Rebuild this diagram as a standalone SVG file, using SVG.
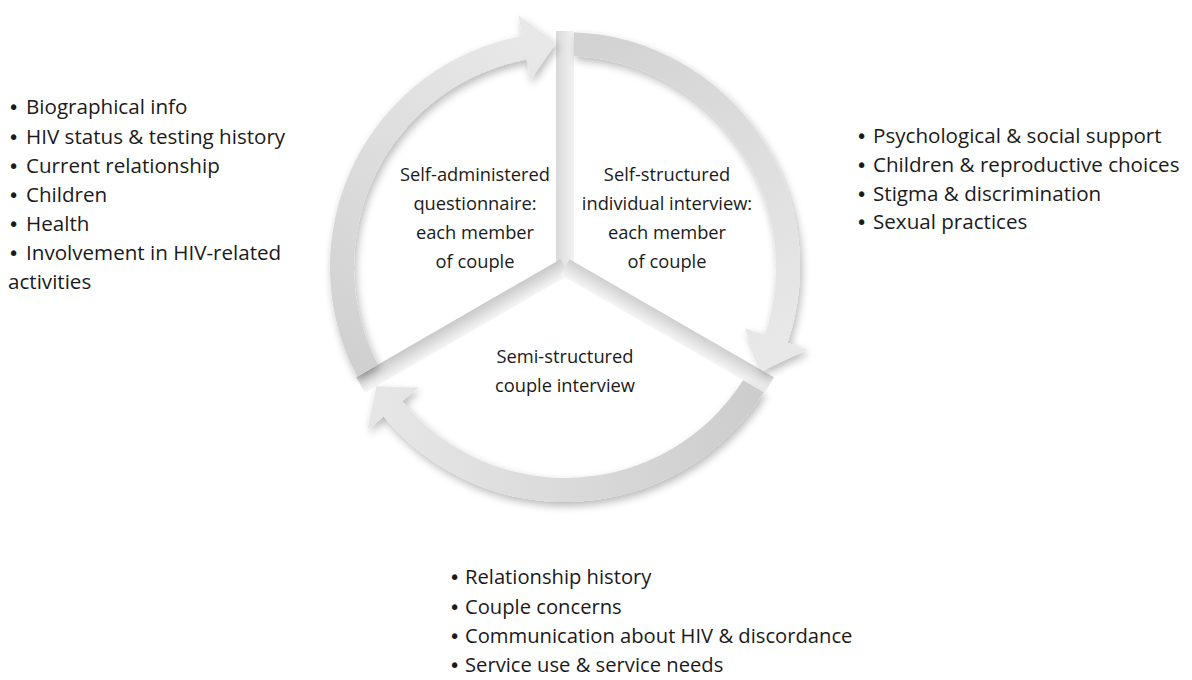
<svg xmlns="http://www.w3.org/2000/svg" width="1192" height="680" viewBox="0 0 1192 680">
  <defs>
    <style>
      .list { font-family: "Open Sans", "Noto Sans", "DejaVu Sans", sans-serif; font-size: 20.6px; fill: #1a1a1a; }
      .listb { font-family: "Open Sans", "Noto Sans", "DejaVu Sans", sans-serif; font-size: 20.2px; fill: #1a1a1a; }
      .bul { font-family: "DejaVu Sans", "Liberation Sans", sans-serif; font-size: 19px; }
      .lbl { font-family: "Open Sans", "Noto Sans", "DejaVu Sans", sans-serif; font-size: 18.3px; fill: #1a1a1a; text-anchor: middle; }
      .seg { filter: url(#shadow); }
    </style>
    <filter id="shadow" x="-20%" y="-20%" width="140%" height="140%">
      <feGaussianBlur in="SourceAlpha" stdDeviation="4"/>
      <feOffset dx="2" dy="4" result="b"/>
      <feComponentTransfer><feFuncA type="linear" slope="0.28"/></feComponentTransfer>
      <feMerge><feMergeNode/><feMergeNode in="SourceGraphic"/></feMerge>
    </filter>
    <linearGradient id="g1" gradientUnits="userSpaceOnUse" x1="367" y1="370" x2="540" y2="45">
      <stop offset="0" stop-color="#d0d0d0"/>
      <stop offset="1" stop-color="#e8e8e8"/>
    </linearGradient>
    <linearGradient id="g2" gradientUnits="userSpaceOnUse" x1="574" y1="44" x2="775" y2="350">
      <stop offset="0" stop-color="#d2d2d2"/>
      <stop offset="1" stop-color="#e8e8e8"/>
    </linearGradient>
    <linearGradient id="g3" gradientUnits="userSpaceOnUse" x1="753" y1="386" x2="385" y2="405">
      <stop offset="0" stop-color="#cdcdcd"/>
      <stop offset="1" stop-color="#e6e6e6"/>
    </linearGradient>
    <linearGradient id="spokeV" x1="0" y1="0" x2="0" y2="1">
      <stop offset="0" stop-color="#d9d9d9"/>
      <stop offset="0.5" stop-color="#e6e6e6"/>
      <stop offset="1" stop-color="#f2f2f2"/>
    </linearGradient>
    <linearGradient id="spokeL" x1="0" y1="0" x2="0" y2="1">
      <stop offset="0" stop-color="#f6f6f6"/>
      <stop offset="1" stop-color="#c9c9c9"/>
    </linearGradient>
    <linearGradient id="spokeR" x1="0" y1="0" x2="0" y2="1">
      <stop offset="0" stop-color="#cfcfcf"/>
      <stop offset="1" stop-color="#f6f6f6"/>
    </linearGradient>
  </defs>

  <rect width="1192" height="680" fill="#ffffff"/>

  <g id="connectors">
    <rect x="0" y="-9" width="236" height="18" fill="url(#spokeV)" transform="translate(565,267) rotate(-90)"/>
    <rect x="0" y="-9" width="236" height="18" fill="url(#spokeL)" transform="translate(565,267) rotate(150)"/>
    <rect x="0" y="-9" width="236" height="18" fill="url(#spokeR)" transform="translate(565,267) rotate(30)"/>
  </g>

  <g id="node-questionnaire">
    <path class="seg" fill="url(#g1)" d="M377.94,364.62 L357.13,376.62 A235,235 0 0 1 522.18,35.92 L518.36,15.28 L556,43 L530.38,80.17 L526.55,59.52 A211,211 0 0 0 377.94,364.62 Z"/>
    <text class="lbl" x="475" y="181">Self-administered</text>
    <text class="lbl" x="475" y="210">questionnaire:</text>
    <text class="lbl" x="475" y="239">each member</text>
    <text class="lbl" x="475" y="268">of couple</text>
  </g>

  <g id="node-individual-interview">
    <path class="seg" fill="url(#g2)" d="M574,56.19 L574,32.17 A235,235 0 0 1 787.47,342.73 L807.35,349.5 L762.6,370.7 L744.87,328.23 L764.75,335 A211,211 0 0 0 574,56.19 Z"/>
    <text class="lbl" x="667" y="181">Self-structured</text>
    <text class="lbl" x="667" y="210">individual interview:</text>
    <text class="lbl" x="667" y="239">each member</text>
    <text class="lbl" x="667" y="268">of couple</text>
  </g>

  <g id="node-couple-interview">
    <path class="seg" fill="url(#g3)" d="M743.06,380.2 L763.87,392.2 A235,235 0 0 1 383.67,416.48 L367.47,429.84 L376.4,386.3 L418.39,387.86 L402.19,401.21 A211,211 0 0 0 743.06,380.2 Z"/>
    <text class="lbl" x="565" y="363">Semi-structured</text>
    <text class="lbl" x="565" y="392">couple interview</text>
  </g>

  <g id="list-left">
    <text class="list" y="114"><tspan class="bul" x="8">•</tspan><tspan x="26">Biographical info</tspan></text>
    <text class="list" y="143.5"><tspan class="bul" x="8">•</tspan><tspan x="26">HIV status &amp; testing history</tspan></text>
    <text class="list" y="172.5"><tspan class="bul" x="8">•</tspan><tspan x="26">Current relationship</tspan></text>
    <text class="list" y="201.5"><tspan class="bul" x="8">•</tspan><tspan x="26">Children</tspan></text>
    <text class="list" y="230.5"><tspan class="bul" x="8">•</tspan><tspan x="26">Health</tspan></text>
    <text class="list" y="259.5"><tspan class="bul" x="8">•</tspan><tspan x="26">Involvement in HIV-related</tspan></text>
    <text class="list" x="8" y="288.5">activities</text>
  </g>

  <g id="list-right">
    <text class="list" y="143"><tspan class="bul" x="856">•</tspan><tspan x="873">Psychological &amp; social support</tspan></text>
    <text class="list" y="172"><tspan class="bul" x="856">•</tspan><tspan x="873">Children &amp; reproductive choices</tspan></text>
    <text class="list" y="200.5"><tspan class="bul" x="856">•</tspan><tspan x="873">Stigma &amp; discrimination</tspan></text>
    <text class="list" y="229"><tspan class="bul" x="856">•</tspan><tspan x="873">Sexual practices</tspan></text>
  </g>

  <g id="list-bottom">
    <text class="listb" y="584"><tspan class="bul" x="449">•</tspan><tspan x="465">Relationship history</tspan></text>
    <text class="listb" y="613.5"><tspan class="bul" x="449">•</tspan><tspan x="465">Couple concerns</tspan></text>
    <text class="listb" y="643"><tspan class="bul" x="449">•</tspan><tspan x="465">Communication about HIV &amp; discordance</tspan></text>
    <text class="listb" y="672"><tspan class="bul" x="449">•</tspan><tspan x="465">Service use &amp; service needs</tspan></text>
  </g>
</svg>
